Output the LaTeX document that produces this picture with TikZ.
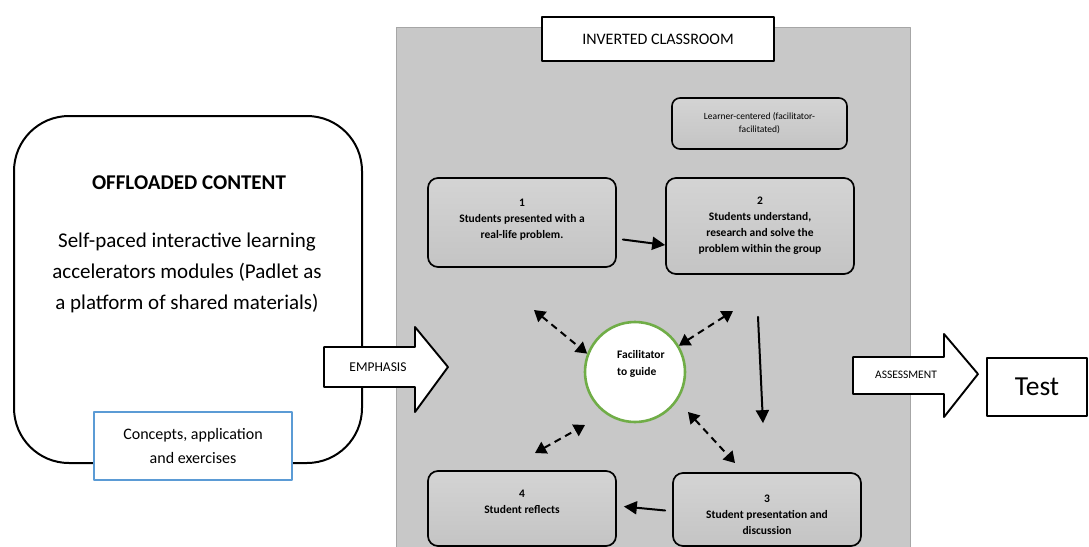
\documentclass[tikz,border=0pt]{standalone}
\usepackage{fontspec}
\setmainfont{Carlito}
\usetikzlibrary{arrows.meta,calc}
\definecolor{panelgray}{RGB}{200,200,200}
\definecolor{boxtop}{RGB}{212,212,212}
\definecolor{boxbot}{RGB}{196,196,196}
\definecolor{guidegreen}{RGB}{112,173,71}
\definecolor{conceptblue}{RGB}{91,155,213}
\begin{document}
\begin{tikzpicture}[x=1pt,y=-1pt,line cap=round,line join=round,
	flow/.style={line width=2pt,-{Triangle[length=13pt,width=13pt]}},
	link/.style={line width=2pt,dash pattern=on 7pt off 5pt,line cap=butt,{Triangle[length=11pt,width=13pt]}-{Triangle[length=11pt,width=13pt]}},
	stepbox/.style={draw,line width=1.7pt,rounded corners=10pt,top color=boxtop,bottom color=boxbot,minimum width=188pt,align=center,font=\bfseries\fontsize{11.5}{16}\selectfont,inner sep=0pt},
	plainbox/.style={draw,line width=1.9pt,fill=white,inner sep=0pt},
	blockarrow/.style={draw,line width=1.9pt,fill=white}]
	\useasboundingbox (0,0) rectangle (1089,546);
	\fill[white] (0,0) rectangle (1089,546);
	\draw[fill=panelgray,draw=black!35,line width=1pt] (396,27) rectangle (910,560);
	\node[plainbox,minimum width=232pt,minimum height=44pt,font=\fontsize{16}{18}\selectfont] (title) at (658,39) {INVERTED CLASSROOM};
	\node[draw,line width=1.6pt,rounded corners=8pt,top color=boxtop,bottom color=boxbot,minimum width=175pt,minimum height=51pt,align=center,inner sep=0pt,font=\fontsize{9.5}{13}\selectfont] (learner) at (759.5,123.5) {Learner-centered (facilitator-\\facilitated)};
	\node[stepbox,minimum height=89pt] (b1) at (522,222.5) {1\\Students presented with a\\real-life problem.\\[-8pt]};
	\node[stepbox,minimum height=96pt] (b2) at (760,226) {2\\Students understand,\\research and solve the\\problem within the group};
	\node[stepbox,minimum height=73pt] (b3) at (767,509.5) {\rule{0pt}{18pt}3\\Student presentation and\\discussion};
	\node[stepbox,minimum height=75pt] (b4) at (522,508.5) {4\\Student reflects\\[-3pt]};
	\node[circle,draw=guidegreen,line width=2.6pt,fill=white,minimum size=100pt] (fac) at (635,372) {};
	\node[align=left,anchor=north west,inner sep=0pt,font=\bfseries\fontsize{11.5}{17}\selectfont] (factext) at (617,350) {Facilitator\\to guide};
	\draw[flow] ([xshift=6pt,yshift=-17pt]b1.east) -- ([yshift=-19pt]b2.west);
	\draw[flow] ([xshift=-2pt,yshift=-42pt]b2.south) -- ([xshift=-4pt,yshift=49pt]b3.north);
	\draw[flow] ([xshift=-7pt,yshift=-1pt]b3.west) -- ([xshift=7pt,yshift=2pt]b4.east);
	\coordinate (ul) at (534,310);
	\coordinate (ur) at (733,311);
	\coordinate (lla) at (535,453);
	\coordinate (llb) at (585,425);
	\coordinate (lra) at (688,412);
	\coordinate (lrb) at (735,463);
	\draw[link] (ul) -- (fac.159);
	\draw[link] (fac.31) -- (ur);
	\draw[link] (lla) -- (llb);
	\draw[link] (lra) -- (lrb);
	\node[draw,line width=2pt,rounded corners=55pt,minimum width=348pt,minimum height=347pt,fill=white] (offload) at (188,289.5) {};
	\node[font=\bfseries\fontsize{21}{24}\selectfont] (offtitle) at (189,183) {OFFLOADED CONTENT};
	\node[align=center,font=\fontsize{21}{31}\selectfont] (offtext) at (187,273) {Self-paced interactive learning\\accelerators modules (Padlet as\\a platform of shared materials)};
	\node[draw=conceptblue,line width=2pt,fill=white,minimum width=198pt,minimum height=68pt,align=center,font=\fontsize{16}{24}\selectfont] (concepts) at (193,446) {Concepts, application\\and exercises};
	\draw[blockarrow] (324,347) -- (415,347) -- (415,327) -- (448,367) -- (415,412) -- (415,387) -- (324,387) -- cycle;
	\node[font=\fontsize{13.5}{15}\selectfont] (emph) at (378,367) {EMPHASIS};
	\draw[blockarrow] (853,357) -- (944,357) -- (944,334) -- (978,374) -- (944,417) -- (944,394) -- (853,394) -- cycle;
	\node[font=\fontsize{11.5}{13}\selectfont] (assess) at (906,375) {ASSESSMENT};
	\node[plainbox,minimum width=100pt,minimum height=58pt,font=\fontsize{27.5}{30}\selectfont] (test) at (1037,387) {Test};
\end{tikzpicture}
\end{document}
